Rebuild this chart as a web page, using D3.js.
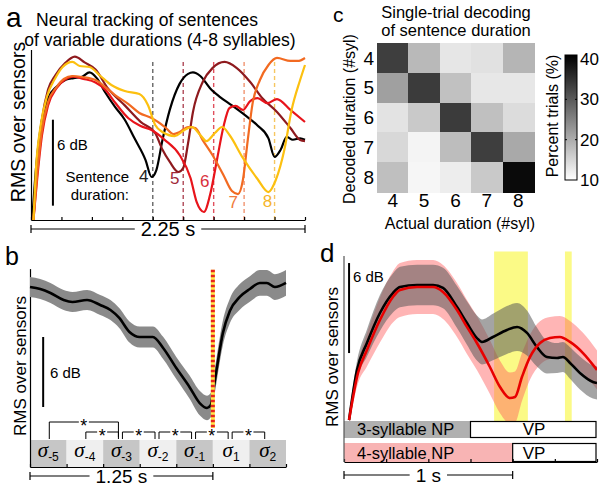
<!DOCTYPE html>
<html>
<head>
<meta charset="utf-8">
<script src="https://cdn.jsdelivr.net/npm/d3@7/dist/d3.min.js"></script>
<style>
html,body{margin:0;padding:0;background:#fff;}
svg{display:block;}
</style>
</head>
<body>
<svg id="fig" width="600" height="486"></svg>
<script>
// ================= DATA =================
// Panel a : time (s) vs RMS (dB), one series per sentence duration (syllables)
const aTimeTicks = [0, 0.25, 0.5, 0.75, 1, 1.25, 1.5, 1.75, 2, 2.25];
const aDurations = [4, 5, 6, 7, 8];
const aOffsets = [1.0, 1.25, 1.5, 1.75, 2.0];
const aSyl4 = [[0.01,0],[0.04,3.5],[0.09,7.0],[0.14,8.5],[0.21,9.3],[0.29,9.8],[0.35,9.9],[0.42,10.0],[0.48,10.3],[0.54,9.9],[0.61,8.9],[0.69,7.9],[0.77,7.0],[0.85,5.7],[0.94,4.2],[0.99,3.0],[1.03,3.5],[1.08,5.6],[1.14,7.7],[1.22,9.5],[1.29,10.2],[1.33,10.3],[1.39,10.05],[1.47,9.2],[1.55,8.6],[1.65,8.0],[1.76,7.3],[1.86,6.6],[1.95,5.7],[2.0,4.4],[2.05,4.9],[2.10,5.8],[2.15,5.6],[2.21,5.7],[2.25,5.6]];
const aSyl5 = [[0.02,0],[0.05,3.8],[0.09,7.0],[0.14,9.1],[0.20,10.1],[0.28,10.95],[0.36,11.4],[0.44,11.0],[0.53,10.5],[0.63,9.2],[0.77,8.0],[0.90,6.85],[1.02,6.07],[1.08,4.9],[1.14,4.05],[1.21,3.35],[1.25,3.63],[1.29,5.37],[1.33,7.54],[1.41,9.63],[1.49,10.6],[1.59,11.03],[1.69,10.6],[1.80,9.63],[1.90,8.5],[2.02,7.54],[2.13,6.42],[2.21,5.58],[2.25,5.5]];
const aSyl6 = [[0.02,0],[0.05,2.8],[0.09,5.9],[0.14,8.0],[0.21,9.2],[0.28,9.8],[0.34,10.0],[0.43,9.85],[0.53,9.6],[0.61,9.1],[0.69,8.2],[0.80,7.1],[0.90,6.56],[0.99,6.28],[1.10,5.58],[1.22,4.54],[1.31,2.93],[1.36,1.26],[1.42,0.56],[1.47,1.74],[1.53,4.33],[1.58,6.49],[1.63,7.82],[1.68,7.96],[1.74,7.68],[1.80,8.3],[1.86,8.51],[1.94,8.16],[2.02,8.44],[2.13,7.68],[2.25,6.84]];
const aSyl7 = [[0.02,0],[0.05,3.14],[0.09,6.28],[0.14,8.23],[0.21,9.28],[0.27,9.84],[0.34,10.05],[0.42,9.98],[0.53,9.77],[0.61,9.28],[0.69,8.72],[0.80,8.09],[0.89,7.47],[0.99,7.12],[1.10,6.49],[1.17,6.0],[1.22,6.14],[1.29,6.49],[1.35,6.42],[1.41,5.58],[1.49,4.54],[1.58,3.14],[1.65,2.02],[1.70,1.81],[1.74,2.79],[1.78,5.58],[1.82,8.16],[1.88,9.77],[1.95,10.82],[2.02,11.31],[2.13,11.1],[2.19,11.1],[2.25,11.31]];
const aSyl8 = [[0.02,0],[0.04,3.49],[0.08,6.63],[0.13,8.58],[0.20,9.91],[0.26,10.68],[0.34,11.03],[0.40,10.75],[0.48,10.68],[0.57,10.05],[0.66,9.42],[0.77,9.0],[0.89,8.79],[0.96,8.03],[1.02,6.63],[1.08,6.14],[1.18,5.86],[1.26,6.28],[1.32,6.49],[1.39,5.93],[1.44,5.51],[1.51,6.07],[1.57,6.49],[1.63,5.93],[1.74,4.33],[1.86,2.86],[1.95,1.95],[2.01,2.79],[2.08,4.88],[2.14,7.68],[2.21,9.77],[2.25,10.82]];

// Panel b : time relative to offset (s), mean RMS (dB), sem (dB)
const bSylBounds = [-1.25, -1, -0.75, -0.5, -0.25, 0, 0.25, 0.5];
const bSylLabels = ['-5', '-4', '-3', '-2', '-1', '1', '2'];
const bComparisons = [[0, 2], [1, 2], [2, 3], [3, 4], [4, 5], [5, 6]];
const bMean = [[-1.25,15.42,0.85],[-1.18,15.25,0.85],[-1.11,14.91,0.85],[-1.02,14.31,0.85],[-0.96,14.14,0.85],[-0.86,14.31,0.85],[-0.77,13.88,0.85],[-0.70,13.45,0.85],[-0.64,12.77,0.85],[-0.57,11.57,0.9],[-0.50,11.14,0.9],[-0.41,11.14,0.9],[-0.34,10.2,0.95],[-0.25,8.48,0.95],[-0.16,6.86,1.0],[-0.09,5.48,1.05],[-0.04,5.06,1.05],[-0.014,5.31,1.05],[0.0,6.34,1.05],[0.025,8.3,1.05],[0.068,11.45,1.05],[0.116,13.37,1.05],[0.184,14.57,1.1],[0.253,15.25,1.1],[0.321,15.77,1.1],[0.369,15.77,1.1],[0.424,15.42,1.1],[0.5,15.77,1.1]];

// Panel c : confusion matrix (percent trials), rows = decoded, cols = actual
const cActual = [4, 5, 6, 7, 8];
const cDecoded = [4, 5, 6, 7, 8];
const cMatrix = [
  [33.5, 18.5, 13.0, 13.6, 19.0],
  [21.5, 33.8, 17.5, 12.9, 12.9],
  [13.4, 16.6, 33.8, 17.6, 14.2],
  [14.8, 11.3, 18.0, 33.5, 20.5],
  [17.8, 11.1, 12.2, 16.6, 39.8]
];
const cBarTicks = [10, 20, 30, 40];

// Panel d : time (s), mean RMS (dB), sem (dB)
const dTicks = [0, 0.25, 0.5, 0.75, 1, 1.25, 1.5];
const dSignif = [[0.89, 1.09], [1.31, 1.35]];
const dNP3 = [[0.03,0.07,0.3],[0.077,3.4,0.6],[0.136,5.2,0.9],[0.213,7.2,1.2],[0.29,8.53,1.3],[0.332,8.93,1.35],[0.433,9.07,1.35],[0.528,9.07,1.35],[0.587,8.87,1.35],[0.67,7.6,1.4],[0.729,6.53,1.45],[0.788,5.53,1.5],[0.818,5.27,1.5],[0.883,5.6,1.55],[0.966,6.07,1.6],[1.026,6.27,1.6],[1.085,5.87,1.5],[1.144,4.93,1.3],[1.203,4.27,1.1],[1.263,4.2,1.0],[1.298,4.27,1.0],[1.34,3.87,1.05],[1.399,3.2,1.1],[1.476,2.6,1.1],[1.5,2.53,1.1]];
const dNP4 = [[0.03,0.07,0.3],[0.083,3.2,0.7],[0.136,4.73,1.1],[0.213,6.73,1.5],[0.29,8.27,1.7],[0.332,8.73,1.8],[0.433,8.93,1.8],[0.528,8.93,1.8],[0.587,8.6,1.8],[0.67,7.4,1.8],[0.729,6.27,1.8],[0.788,5.2,1.8],[0.865,3.6,1.8],[0.925,2.27,1.75],[0.984,1.53,1.7],[1.014,1.6,1.7],[1.055,2.93,1.6],[1.103,4.27,1.5],[1.162,5.2,1.45],[1.221,5.53,1.4],[1.28,5.6,1.4],[1.34,5.27,1.4],[1.417,4.53,1.35],[1.5,3.4,1.3]];
const dNPLength = [0.75, 1.0];
const dRowLabels = ['3-syllable NP', '4-syllable NP'];

// ================= DRAWING =================
const FONT = '"Liberation Sans", Arial, Helvetica, sans-serif';
const svg = d3.select('#fig');

function label(g, x, y, str, o = {}) {
  const t = g.append('text')
    .attr('font-family', o.family || FONT)
    .attr('font-size', o.size || 16)
    .attr('text-anchor', o.anchor || 'middle')
    .attr('fill', o.fill || '#000');
  if (o.rotate) t.attr('transform', `translate(${x},${y}) rotate(${o.rotate})`);
  else t.attr('x', x).attr('y', y);
  if (o.dy) t.attr('dy', o.dy);
  if (o.style) t.attr('font-style', o.style);
  t.text(str);
  return t;
}
function seg(g, x1, y1, x2, y2, color = '#000', w = 1.2) {
  return g.append('line').attr('x1', x1).attr('y1', y1).attr('x2', x2).attr('y2', y2)
    .attr('stroke', color).attr('stroke-width', w);
}
function timeBar(g, x0, x1, y, str, size) {
  const mid = (x0 + x1) / 2;
  const t = label(g, mid, y, str, {size, dy: '0.35em'});
  const w = t.node().getComputedTextLength();
  const gap = 6;
  seg(g, x0, y, mid - w / 2 - gap, y);
  seg(g, mid + w / 2 + gap, y, x1, y);
  seg(g, x0, y - 4, x0, y + 4);
  seg(g, x1, y - 4, x1, y + 4);
}

// ---------- Panel a ----------
(function () {
  const g = svg.append('g');
  const ax = d3.scaleLinear().domain([0, 2.25]).range([31, 305]);
  const ay = d3.scaleLinear().domain([0, 11.9]).range([220, 49.5]);
  const lineColors = ['#000000', '#8e1a1e', '#e8141b', '#f26a21', '#fcc010'];
  const dashColors = ['#666666', '#b04a58', '#e0505e', '#f09470', '#f6c660'];
  const numColors = ['#222222', '#a02838', '#d9303c', '#f07a3c', '#f5b52a'];

  aOffsets.forEach((t, i) => {
    seg(g, ax(t), ay(0), ax(t), ay(11.2), dashColors[i], 1.4).attr('stroke-dasharray', '4,3');
  });

  g.append('g').attr('transform', `translate(0,${ay(0)})`)
    .call(d3.axisBottom(ax).tickValues(aTimeTicks).tickSize(-3).tickSizeOuter(0).tickFormat(''))
    .call(s => s.selectAll('path,line').attr('stroke', '#000').attr('stroke-width', 1.2));
  g.append('g').attr('transform', `translate(${ax(0)},0)`)
    .call(d3.axisLeft(ay).tickValues([]).tickSizeOuter(0))
    .call(s => s.selectAll('path').attr('stroke', '#000').attr('stroke-width', 1.2));

  const line = d3.line().x(d => ax(d[0])).y(d => ay(d[1])).curve(d3.curveMonotoneX);
  [aSyl4, aSyl5, aSyl6, aSyl7, aSyl8].forEach((s, i) => {
    g.append('path').attr('d', line(s)).attr('fill', 'none')
      .attr('stroke', lineColors[i]).attr('stroke-width', 2.2).attr('stroke-linejoin', 'round');
  });

  // 6 dB scale bar
  seg(g, ax(0.18), ay(1), ax(0.18), ay(7), '#000', 2);
  label(g, 57, 150, '6 dB', {size: 15, anchor: 'start'});

  label(g, 129, 182, 'Sentence', {size: 15, anchor: 'end'});
  label(g, 129, 200, 'duration:', {size: 15, anchor: 'end'});
  const numDx = [-9, -8.5, -9, -11, -7];
  const numY = [182, 184, 187, 208, 207];
  aDurations.forEach((d, i) => {
    label(g, ax(aOffsets[i]) + numDx[i], numY[i], String(d), {size: 17, fill: numColors[i]});
  });

  label(g, 25, 122, 'RMS over sensors', {size: 19.5, rotate: -90});
  label(g, 147, 26, 'Neural tracking of sentences', {size: 17.5});
  label(g, 160, 46, 'of variable durations (4-8 syllables)', {size: 17.5});
  label(g, 6, 27, 'a', {size: 28, anchor: 'start'});
  timeBar(g, ax(0), ax(2.25), 229, '2.25 s', 20);
})();

// ---------- Panel b ----------
(function () {
  const g = svg.append('g');
  const bx = d3.scaleLinear().domain([-1.25, 0.5]).range([30, 286]);
  const by = d3.scaleLinear().domain([0, 17]).range([467, 268.6]);

  // syllable boxes
  bSylLabels.forEach((s, i) => {
    const x0 = bx(bSylBounds[i]), x1 = bx(bSylBounds[i + 1]);
    g.append('rect').attr('x', x0).attr('y', 440).attr('width', x1 - x0).attr('height', 27)
      .attr('fill', i % 2 === 0 ? '#c6c6c6' : '#efefef');
    const t = g.append('text').attr('x', (x0 + x1) / 2).attr('y', 457).attr('text-anchor', 'middle');
    t.append('tspan').attr('font-family', '"Liberation Serif", "Times New Roman", serif')
      .attr('font-style', 'italic').attr('font-size', 21).text('σ');
    t.append('tspan').attr('font-family', FONT).attr('font-size', 12).attr('dy', 4).text(s);
  });

  // axes
  g.append('g').attr('transform', `translate(0,467)`)
    .call(d3.axisBottom(bx).tickValues(bSylBounds).tickSize(-3).tickSizeOuter(0).tickFormat(''))
    .call(s => s.selectAll('path,line').attr('stroke', '#000').attr('stroke-width', 1.2));
  g.append('g').attr('transform', `translate(${bx(-1.25)},0)`)
    .call(d3.axisLeft(by).tickValues([]).tickSizeOuter(0))
    .call(s => s.selectAll('path').attr('stroke', '#000').attr('stroke-width', 1.2));

  // comparison brackets
  const center = i => bx((bSylBounds[i] + bSylBounds[i + 1]) / 2);
  bComparisons.forEach(([i, j]) => {
    const y = (j - i > 1) ? 422 : 432;
    const x0 = center(i) + 1, x1 = center(j) - 3;
    const mid = (x0 + x1) / 2;
    seg(g, x0, y, mid - 5, y, '#000', 1);
    seg(g, mid + 5, y, x1, y, '#000', 1);
    seg(g, x0, y, x0, 439, '#000', 1);
    seg(g, x1, y, x1, j - i > 1 ? 437 : 439, '#000', 1);
    label(g, mid, y + 10, '*', {size: 18});
  });

  // mean +/- sem
  const area = d3.area().x(d => bx(d[0])).y0(d => by(d[1] - d[2])).y1(d => by(d[1] + d[2])).curve(d3.curveMonotoneX);
  const line = d3.line().x(d => bx(d[0])).y(d => by(d[1])).curve(d3.curveMonotoneX);
  g.append('path').attr('d', area(bMean)).attr('fill', '#8a8a8a');
  g.append('path').attr('d', line(bMean)).attr('fill', 'none').attr('stroke', '#000').attr('stroke-width', 2.6);

  // offset marker (dotted red/yellow)
  seg(g, bx(0), by(16.9), bx(0), 428, '#ffe94a', 4);
  seg(g, bx(0), by(16.9), bx(0), 428, '#e8241c', 4).attr('stroke-dasharray', '2.5,2.5');

  seg(g, bx(-1.16), by(5.14), bx(-1.16), by(11.14), '#000', 2);
  label(g, 50, 378, '6 dB', {size: 15, anchor: 'start'});
  label(g, 26, 366, 'RMS over sensors', {size: 17, rotate: -90});
  label(g, 5, 265, 'b', {size: 25, anchor: 'start'});
  timeBar(g, bx(-1.25), bx(0), 476, '1.25 s', 19);
})();

// ---------- Panel c ----------
(function () {
  const g = svg.append('g');
  const cx = d3.scaleBand().domain(cActual).range([377, 534]);
  const cy = d3.scaleBand().domain(cDecoded).range([43, 192]);
  const color = d3.scaleLinear().domain([10, 41]).range(['#ffffff', '#000000']).clamp(true);
  cMatrix.forEach((row, i) => row.forEach((v, j) => {
    g.append('rect').attr('x', cx(cActual[j])).attr('y', cy(cDecoded[i]))
      .attr('width', cx.bandwidth() + 0.5).attr('height', cy.bandwidth() + 0.5)
      .attr('fill', color(v)).attr('shape-rendering', 'crispEdges');
  }));

  cActual.forEach(v => label(g, cx(v) + cx.bandwidth() / 2, 207, String(v), {size: 19}));
  cDecoded.forEach(v => label(g, 374, cy(v) + cy.bandwidth() / 2, String(v), {size: 19, anchor: 'end', dy: '0.35em'}));
  label(g, 460, 229, 'Actual duration (#syl)', {size: 16});
  label(g, 355, 119, 'Decoded duration (#syl)', {size: 16, rotate: -90});
  label(g, 456, 18, 'Single-trial decoding', {size: 16.5});
  label(g, 456, 36, 'of sentence duration', {size: 16.5});
  label(g, 333, 22, 'c', {size: 21, anchor: 'start'});

  // colorbar
  const cb = d3.scaleLinear().domain([10, 41]).range([180, 55]);
  const grad = svg.append('defs').append('linearGradient').attr('id', 'cbgrad')
    .attr('x1', 0).attr('y1', 1).attr('x2', 0).attr('y2', 0);
  grad.append('stop').attr('offset', '0%').attr('stop-color', color(10));
  grad.append('stop').attr('offset', '100%').attr('stop-color', color(41));
  g.append('rect').attr('x', 565).attr('y', cb(41)).attr('width', 12).attr('height', cb(10) - cb(41))
    .attr('fill', 'url(#cbgrad)').attr('stroke', '#000').attr('stroke-width', 1);
  cBarTicks.forEach(v => {
    if (v > 10 && v < 40) {
      seg(g, 565, cb(v), 567, cb(v), '#000', 1);
      seg(g, 575, cb(v), 577, cb(v), '#000', 1);
    }
    label(g, 580, cb(v), String(v), {size: 17, anchor: 'start', dy: '0.35em'});
  });
  label(g, 558, 116, 'Percent trials (%)', {size: 16, rotate: -90});
})();

// ---------- Panel d ----------
(function () {
  const g = svg.append('g');
  const dx = d3.scaleLinear().domain([0, 1.5]).range([344, 597]);
  const dy = d3.scaleLinear().domain([0, 11.3]).range([421, 251.5]);

  svg.select('defs').append('clipPath').attr('id', 'dclip')
    .append('rect').attr('x', dx(0)).attr('y', dy(11.3)).attr('width', dx(1.5) - dx(0)).attr('height', dy(0) - dy(11.3));

  dSignif.forEach(([a, b]) => {
    g.append('rect').attr('x', dx(a)).attr('y', dy(11.3)).attr('width', dx(b) - dx(a)).attr('height', dy(0) - dy(11.3))
      .attr('fill', '#fbfa86');
  });

  const area = d3.area().x(d => dx(d[0])).y0(d => dy(d[1] - d[2])).y1(d => dy(d[1] + d[2])).curve(d3.curveMonotoneX);
  const line = d3.line().x(d => dx(d[0])).y(d => dy(d[1])).curve(d3.curveMonotoneX);
  const cg = g.append('g').attr('clip-path', 'url(#dclip)');
  cg.append('path').attr('d', area(dNP4)).attr('fill', 'rgba(255,90,90,0.45)');
  cg.append('path').attr('d', area(dNP3)).attr('fill', 'rgba(90,90,90,0.55)');
  cg.append('path').attr('d', line(dNP3)).attr('fill', 'none').attr('stroke', '#000').attr('stroke-width', 2.6);
  cg.append('path').attr('d', line(dNP4)).attr('fill', 'none').attr('stroke', '#e80000').attr('stroke-width', 2.6);

  // NP / VP boxes
  const rows = [[421, 438, '#b0b0b0'], [443, 462, '#f8b4b4']];
  rows.forEach(([y0, y1, fill], i) => {
    g.append('rect').attr('x', dx(0)).attr('y', y0).attr('width', dx(dNPLength[i]) - dx(0)).attr('height', y1 - y0).attr('fill', fill);
    g.append('rect').attr('x', dx(dNPLength[i])).attr('y', y0 + 0.5).attr('width', dx(1.5) - dx(dNPLength[i]) - 1).attr('height', y1 - y0 - 1)
      .attr('fill', '#fff').attr('stroke', '#000').attr('stroke-width', 1.2);
    label(g, dx(0) + 13, y1 - 3, dRowLabels[i], {size: 16.5, anchor: 'start'});
    label(g, dx(1.0) + 10, y1 - 3, 'VP', {size: 17, anchor: 'start'});
  });

  g.append('g').attr('transform', `translate(0,462)`)
    .call(d3.axisBottom(dx).tickValues(dTicks).tickSize(-3).tickSizeOuter(0).tickFormat(''))
    .call(s => s.selectAll('path,line').attr('stroke', '#000').attr('stroke-width', 1.2));
  seg(g, dx(0), dy(11), dx(0), 462, '#555', 1.2);

  seg(g, dx(0.03), dy(4.53), dx(0.03), dy(10.53), '#000', 2);
  label(g, 353, 282, '6 dB', {size: 15, anchor: 'start'});
  label(g, 338, 357, 'RMS over sensors', {size: 17, rotate: -90});
  label(g, 320, 262, 'd', {size: 26, anchor: 'start'});
  timeBar(g, dx(0), dx(1), 475, '1 s', 19);
})();
</script>
</body>
</html>
